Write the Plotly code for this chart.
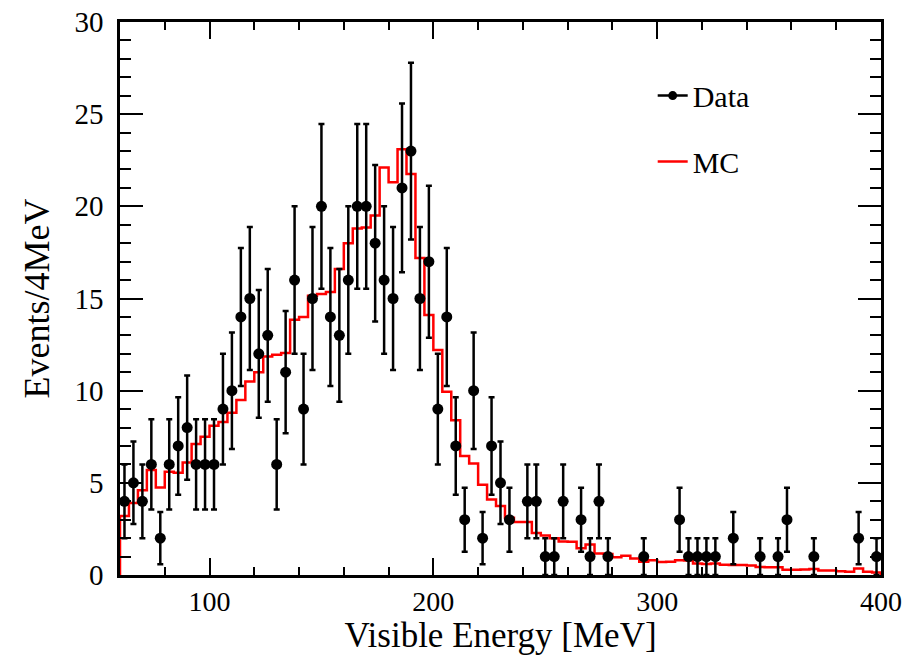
import math
import plotly.graph_objects as go

# ---- data ----
bin_width = 4
x_min, x_max = 60, 400
bin_centers = [62 + 4 * i for i in range(85)]

data_counts = [
    4, 5, 4, 6, 2, 6, 7, 8, 6, 6,          # 62-98
    6, 9, 10, 14, 15, 12, 13, 6, 11, 16,   # 102-138
    9, 15, 20, 14, 13, 16, 20, 20, 18, 16, # 142-178
    15, 21, 23, 15, 17, 9, 14, 7, 3, 10,   # 182-218
    2, 7, 5, 3, 0, 4, 4, 1, 1, 4,          # 222-258
    0, 3, 1, 4, 1, 0, 0, 0, 1, 0,          # 262-298
    0, 0, 3, 1, 1, 1, 1, 0, 2, 0,          # 302-338
    0, 1, 0, 1, 3, 0, 0, 1, 0, 0,          # 342-378
    0, 0, 2, 0, 1,                         # 382-398
]

mc_values = [
    3.2, 3.9, 4.6, 5.7, 4.75, 5.6, 5.55, 6.1, 7.1, 7.5,          # 62-98
    8.1, 8.3, 8.8, 9.5, 10.5, 11.0, 11.85, 11.95, 12.05, 13.85,  # 102-138
    14.0, 15.15, 15.25, 15.35, 16.6, 18.0, 18.8, 18.85, 19.5, 22.1,  # 142-178
    21.3, 23.1, 21.75, 17.2, 14.1, 12.2, 9.94, 8.4, 6.45, 6.05,  # 182-218
    4.9, 4.1, 3.75, 3.1, 2.88, 2.88, 2.28, 2.14, 1.99, 1.82,     # 222-258
    1.8, 1.45, 1.65, 1.17, 1.14, 0.96, 1.05, 0.9, 0.72, 0.8,     # 262-298
    0.7, 0.72, 0.8, 0.78, 0.63, 0.6, 0.62, 0.55, 0.54, 0.54,     # 302-338
    0.52, 0.43, 0.42, 0.42, 0.28, 0.28, 0.3, 0.32, 0.24, 0.24,   # 342-378
    0.2, 0.18, 0.35, 0.18, 0.13,                                 # 382-398
]

x_tick_vals = [100, 200, 300, 400]
y_tick_vals = [0, 5, 10, 15, 20, 25, 30]

# ---- derived ----
pts_x = [c for c, n in zip(bin_centers, data_counts) if n > 0]
pts_y = [n for n in data_counts if n > 0]
pts_err = [math.sqrt(n) for n in pts_y]

edges = [c - bin_width / 2 for c in bin_centers] + [bin_centers[-1] + bin_width / 2]
step_x = [edges[0]] + edges[:-1] + [edges[-1], edges[-1]]
step_y = [0] + mc_values + [mc_values[-1], 0]

FONT = "Liberation Serif"

fig = go.Figure()

fig.add_trace(go.Scatter(
    x=step_x, y=step_y, mode="lines", line=dict(color="#ff0000", width=2.5, shape="hv"),
    showlegend=False, hoverinfo="skip"))

fig.add_trace(go.Scatter(
    x=pts_x, y=pts_y, mode="markers",
    marker=dict(color="black", size=11),
    error_y=dict(type="data", array=pts_err, visible=True, color="black", thickness=2.5, width=3),
    showlegend=False))

# legend entries
fig.add_trace(go.Scatter(
    x=[None], y=[None], mode="lines+markers", name="Data", legendgroup="a",
    line=dict(color="black", width=2.5), marker=dict(color="black", size=9)))
fig.add_trace(go.Scatter(
    x=[None], y=[None], mode="lines", name="MC", legendgroup="b",
    line=dict(color="#ff0000", width=2.5)))

axis_common = dict(
    showline=True, linecolor="black", linewidth=2.5, mirror="ticks",
    ticks="inside", tickcolor="black", tickwidth=2,
    showgrid=False, zeroline=False, automargin=False,
)

fig.update_xaxes(
    range=[x_min, x_max], tickvals=x_tick_vals, ticklen=17,
    tickfont=dict(family=FONT, size=28, color="black"),
    minor=dict(dtick=20, tick0=0, ticklen=8, tickwidth=2, tickcolor="black", ticks="inside"),
    title=dict(text="Visible Energy [MeV]", font=dict(family=FONT, size=35, color="black"), standoff=8),
    **axis_common)
fig.update_yaxes(
    range=[0, 30], tickvals=y_tick_vals, ticklen=23,
    tickfont=dict(family=FONT, size=29, color="black"),
    minor=dict(dtick=1, tick0=0, ticklen=11, tickwidth=2, tickcolor="black", ticks="inside"),
    title=dict(text="Events/4MeV", font=dict(family=FONT, size=36, color="black"), standoff=14),
    ticklabelstandoff=8,
    **axis_common)

fig.update_layout(
    width=910, height=655,
    margin=dict(l=120, r=29, t=22, b=80),
    paper_bgcolor="white", plot_bgcolor="white",
    font=dict(family=FONT, color="black"),
    legend=dict(x=0.70, y=0.914, xanchor="left", yanchor="top",
                font=dict(family=FONT, size=30, color="black"),
                bgcolor="rgba(0,0,0,0)", tracegroupgap=24, itemwidth=30),
)

fig.write_html("out.html", config={"displayModeBar": False},
               post_script="document.body.style.margin='0';")
